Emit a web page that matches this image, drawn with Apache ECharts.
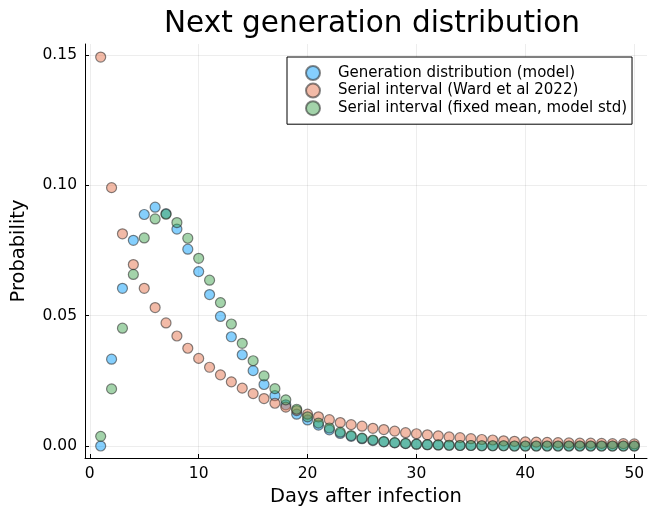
<!DOCTYPE html>
<html>
<head>
<meta charset="utf-8">
<script src="https://cdn.jsdelivr.net/npm/echarts@6/dist/echarts.min.js"></script>
<style>html,body{margin:0;padding:0;background:#fff}#c{width:648px;height:512px}</style>
</head>
<body>
<div id="c"></div>
<script>
const days = Array.from({length: 50}, (_, i) => i + 1);
const generationModel = [0.0000,0.0333,0.0605,0.0789,0.0888,0.0916,0.0891,0.0832,0.0755,0.0669,
  0.0581,0.0497,0.0419,0.0350,0.0289,0.0236,0.0193,0.0158,0.0122,0.0100,
  0.0080,0.0062,0.0048,0.0037,0.0028,0.0021,0.0016,0.0012,0.0009,0.0007,
  0.0005,0.0004,0.0003,0.0002,0.0002,0.0001,0.0001,0.0001,0.0000,0.0000,
  0.0000,0.0000,0.0000,0.0000,0.0000,0.0000,0.0000,0.0000,0.0000,0.0000];
const serialWard = [0.1492,0.0991,0.0814,0.0696,0.0605,0.0531,0.0472,0.0422,0.0375,0.0336,
  0.0302,0.0273,0.0246,0.0222,0.0201,0.0182,0.0164,0.0149,0.0136,0.0122,
  0.0112,0.0101,0.0090,0.0082,0.0076,0.0068,0.0063,0.0057,0.0051,0.0047,
  0.0043,0.0039,0.0035,0.0032,0.0028,0.0025,0.0023,0.0020,0.0018,0.0016,
  0.0015,0.0014,0.0013,0.0012,0.0011,0.0011,0.0010,0.0009,0.0009,0.0008];
const serialFixed = [0.0037,0.0219,0.0452,0.0658,0.0798,0.0871,0.0889,0.0857,0.0797,0.0720,
  0.0636,0.0550,0.0468,0.0394,0.0327,0.0269,0.0220,0.0177,0.0141,0.0112,
  0.0088,0.0069,0.0053,0.0040,0.0030,0.0023,0.0017,0.0013,0.0010,0.0007,
  0.0005,0.0004,0.0003,0.0002,0.0002,0.0001,0.0001,0.0001,0.0000,0.0000,
  0.0000,0.0000,0.0000,0.0000,0.0000,0.0000,0.0000,0.0000,0.0000,0.0000];
const xTicks = [0, 10, 20, 30, 40, 50];
const yTicks = [0, 0.05, 0.10, 0.15];
const seriesNames = ['Generation distribution (model)', 'Serial interval (Ward et al 2022)', 'Serial interval (fixed mean, model std)'];
const colors = ['rgba(0,154,250,0.6)', 'rgba(227,111,71,0.6)', 'rgba(62,164,78,0.6)'];

const font = 'DejaVu Sans';
const mk = (name, vals, color) => ({
  name, type: 'scatter', symbol: 'circle', symbolSize: 10,
  data: days.map((d, i) => [d, vals[i]]),
  itemStyle: { color, borderColor: 'rgba(40,40,40,0.7)', borderWidth: 1.2 },
  emphasis: { disabled: true }
});
const chart = echarts.init(document.getElementById('c'), null, { renderer: 'canvas' });
chart.setOption({
  animation: false,
  backgroundColor: '#fff',
  title: { text: 'Next generation distribution', left: 367, textAlign: 'center', top: 4,
    textStyle: { fontFamily: font, fontSize: 29.5, fontWeight: 'normal', color: '#000' } },
  grid: { left: 85, right: 1, top: 44, bottom: 51, containLabel: false },
  legend: {
    orient: 'vertical', left: 287, top: 57,
    data: seriesNames, icon: 'circle', itemWidth: 14, itemHeight: 14, itemGap: 1.6,
    padding: [8, 5, 8, 18], borderColor: '#000', borderWidth: 1, backgroundColor: '#fff',
    textStyle: { fontFamily: font, fontSize: 15, lineHeight: 14, color: '#000', padding: [0, 0, 0, 13] },
    selectedMode: false
  },
  xAxis: {
    type: 'value', min: -0.44, max: 51.17,
    name: 'Days after infection', nameLocation: 'middle', nameGap: 29,
    nameTextStyle: { fontFamily: font, fontSize: 19.5, color: '#000' },
    axisLine: { show: true, onZero: false, lineStyle: { color: '#000', width: 1 } },
    axisTick: { show: true, inside: true, length: 4, customValues: xTicks, lineStyle: { color: '#000' } },
    axisLabel: { customValues: xTicks, margin: 8, fontFamily: font, fontSize: 15.5, color: '#000' },
    splitLine: { show: true, lineStyle: { color: 'rgba(0,0,0,0.07)', width: 1 } }
  },
  yAxis: {
    type: 'value', min: -0.0046, max: 0.1542,
    name: 'Probability', nameLocation: 'middle', nameGap: 56,
    nameTextStyle: { fontFamily: font, fontSize: 19.5, color: '#000' },
    axisLine: { show: true, onZero: false, lineStyle: { color: '#000', width: 1 } },
    axisTick: { show: true, inside: true, length: 4, customValues: yTicks, lineStyle: { color: '#000' } },
    axisLabel: { customValues: yTicks, margin: 8, fontFamily: font, fontSize: 15.5, color: '#000',
      formatter: v => v.toFixed(2) },
    splitLine: { show: true, lineStyle: { color: 'rgba(0,0,0,0.07)', width: 1 } }
  },
  series: [
    mk(seriesNames[0], generationModel, colors[0]),
    mk(seriesNames[1], serialWard, colors[1]),
    mk(seriesNames[2], serialFixed, colors[2])
  ]
});
</script>
</body>
</html>
